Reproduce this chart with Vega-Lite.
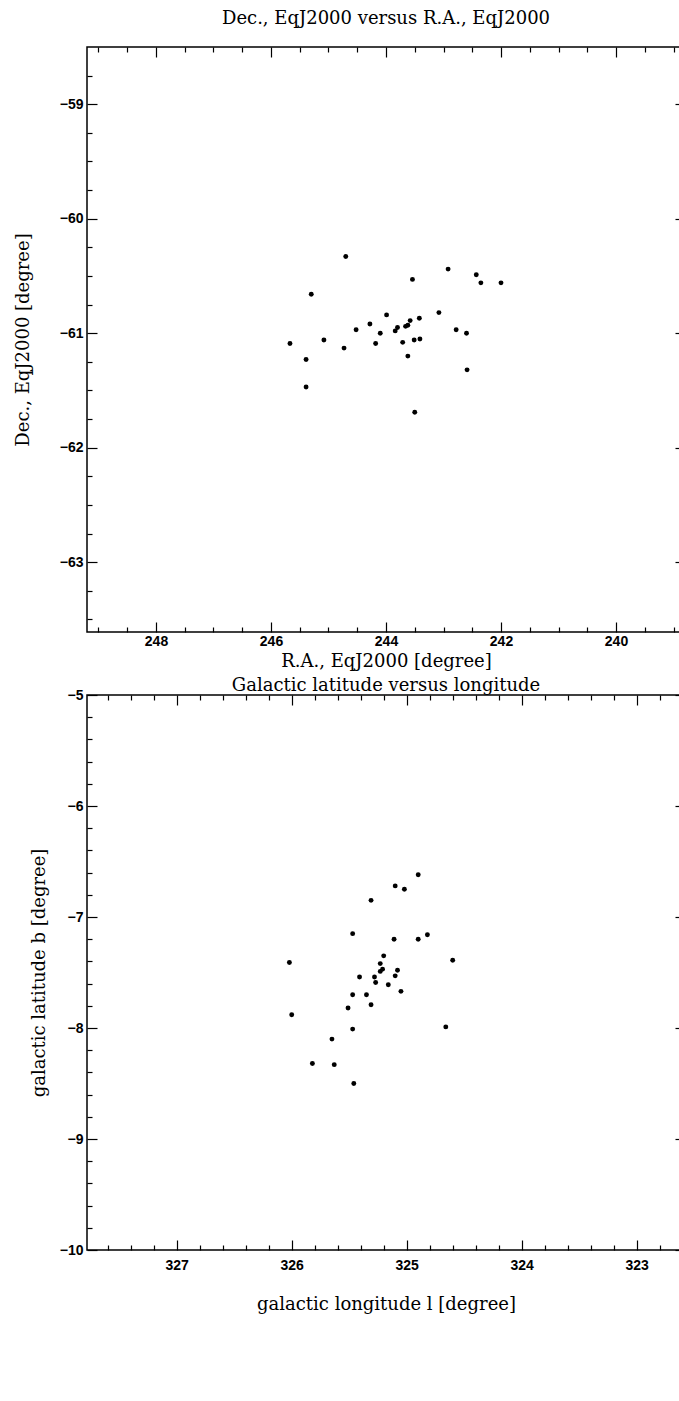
{
  "$schema": "https://vega.github.io/schema/vega-lite/v6.json",
  "background": "white",
  "padding": {"left": 13, "top": 9, "right": 0, "bottom": 0},
  "bounds": "flush",
  "spacing": 63,
  "datasets": {
    "eq": [
      {"ra": 244.70, "dec": -60.33}, {"ra": 242.92, "dec": -60.44}, {"ra": 242.43, "dec": -60.49},
      {"ra": 243.54, "dec": -60.53}, {"ra": 242.35, "dec": -60.56}, {"ra": 242.00, "dec": -60.56},
      {"ra": 245.30, "dec": -60.66}, {"ra": 243.08, "dec": -60.82}, {"ra": 243.99, "dec": -60.84},
      {"ra": 243.42, "dec": -60.87}, {"ra": 243.58, "dec": -60.89}, {"ra": 244.28, "dec": -60.92},
      {"ra": 243.66, "dec": -60.94}, {"ra": 243.62, "dec": -60.93}, {"ra": 243.80, "dec": -60.95},
      {"ra": 243.84, "dec": -60.98}, {"ra": 244.52, "dec": -60.97}, {"ra": 242.78, "dec": -60.97},
      {"ra": 244.10, "dec": -61.00}, {"ra": 242.60, "dec": -61.00}, {"ra": 245.08, "dec": -61.06},
      {"ra": 245.67, "dec": -61.09}, {"ra": 244.18, "dec": -61.09}, {"ra": 243.71, "dec": -61.08},
      {"ra": 243.51, "dec": -61.06}, {"ra": 243.41, "dec": -61.05}, {"ra": 244.73, "dec": -61.13},
      {"ra": 243.62, "dec": -61.20}, {"ra": 245.39, "dec": -61.23}, {"ra": 242.59, "dec": -61.32},
      {"ra": 245.39, "dec": -61.47}, {"ra": 243.50, "dec": -61.69}
    ],
    "gal": [
      {"l": 324.90, "b": -6.62}, {"l": 325.10, "b": -6.72}, {"l": 325.02, "b": -6.75},
      {"l": 325.31, "b": -6.85}, {"l": 325.47, "b": -7.15}, {"l": 325.11, "b": -7.20},
      {"l": 324.90, "b": -7.20}, {"l": 324.82, "b": -7.16}, {"l": 324.60, "b": -7.39},
      {"l": 326.02, "b": -7.41}, {"l": 325.20, "b": -7.35}, {"l": 325.23, "b": -7.42},
      {"l": 325.21, "b": -7.47}, {"l": 325.23, "b": -7.49}, {"l": 325.08, "b": -7.48},
      {"l": 325.10, "b": -7.53}, {"l": 325.41, "b": -7.54}, {"l": 325.28, "b": -7.54},
      {"l": 325.27, "b": -7.59}, {"l": 325.16, "b": -7.61}, {"l": 325.05, "b": -7.67},
      {"l": 325.47, "b": -7.70}, {"l": 325.35, "b": -7.70}, {"l": 325.31, "b": -7.79},
      {"l": 325.51, "b": -7.82}, {"l": 326.00, "b": -7.88}, {"l": 324.66, "b": -7.99},
      {"l": 325.47, "b": -8.01}, {"l": 325.65, "b": -8.10}, {"l": 325.82, "b": -8.32},
      {"l": 325.63, "b": -8.33}, {"l": 325.46, "b": -8.50}
    ]
  },
  "vconcat": [
    {
      "title": {"text": "Dec., EqJ2000 versus R.A., EqJ2000", "offset": 18},
      "width": 598,
      "height": 585,
      "data": {"name": "eq"},
      "resolve": {"axis": {"x": "independent", "y": "independent"}},
      "layer": [
        {
          "mark": {"type": "circle", "size": 24, "color": "black", "opacity": 1},
          "encoding": {
            "x": {"field": "ra", "type": "quantitative",
              "scale": {"domain": [238.8, 249.2], "reverse": true, "nice": false, "zero": false},
              "axis": {"orient": "bottom", "values": [240, 242, 244, 246, 248], "title": "R.A., EqJ2000 [degree]", "tickSize": -10, "labelPadding": 12, "titlePadding": 4, "labelFlush": false}},
            "y": {"field": "dec", "type": "quantitative",
              "scale": {"domain": [-63.61, -58.5], "nice": false, "zero": false},
              "axis": {"orient": "left", "values": [-63, -62, -61, -60, -59], "title": "Dec., EqJ2000 [degree]", "tickSize": -10, "labelPadding": 14, "titlePadding": 27}}
          }
        },
        {
          "mark": {"type": "circle", "size": 24, "opacity": 0},
          "encoding": {
            "x": {"field": "ra", "type": "quantitative",
              "scale": {"domain": [238.8, 249.2], "reverse": true, "nice": false, "zero": false},
              "axis": {"orient": "top", "values": [240, 242, 244, 246, 248], "title": null, "labels": false, "tickSize": -10}},
            "y": {"field": "dec", "type": "quantitative",
              "scale": {"domain": [-63.61, -58.5], "nice": false, "zero": false},
              "axis": {"orient": "right", "values": [-63, -62, -61, -60, -59], "title": null, "labels": false, "tickSize": -10}}
          }
        },
        {
          "mark": {"type": "circle", "size": 24, "opacity": 0},
          "encoding": {
            "x": {"field": "ra", "type": "quantitative",
              "scale": {"domain": [238.8, 249.2], "reverse": true, "nice": false, "zero": false},
              "axis": {"orient": "bottom", "values": [239, 239.5, 240.5, 241, 241.5, 242.5, 243, 243.5, 244.5, 245, 245.5, 246.5, 247, 247.5, 248.5, 249], "title": null, "labels": false, "tickSize": -5}},
            "y": {"field": "dec", "type": "quantitative",
              "scale": {"domain": [-63.61, -58.5], "nice": false, "zero": false},
              "axis": {"orient": "left", "values": [-63.5, -63.25, -62.75, -62.5, -62.25, -61.75, -61.5, -61.25, -60.75, -60.5, -60.25, -59.75, -59.5, -59.25, -58.75], "title": null, "labels": false, "tickSize": -5}}
          }
        },
        {
          "mark": {"type": "circle", "size": 24, "opacity": 0},
          "encoding": {
            "x": {"field": "ra", "type": "quantitative",
              "scale": {"domain": [238.8, 249.2], "reverse": true, "nice": false, "zero": false},
              "axis": {"orient": "top", "values": [239, 239.5, 240.5, 241, 241.5, 242.5, 243, 243.5, 244.5, 245, 245.5, 246.5, 247, 247.5, 248.5, 249], "title": null, "labels": false, "tickSize": -5}},
            "y": {"field": "dec", "type": "quantitative",
              "scale": {"domain": [-63.61, -58.5], "nice": false, "zero": false},
              "axis": {"orient": "right", "values": [-63.5, -63.25, -62.75, -62.5, -62.25, -61.75, -61.5, -61.25, -60.75, -60.5, -60.25, -59.75, -59.5, -59.25, -58.75], "title": null, "labels": false, "tickSize": -5}}
          }
        }
      ]
    },
    {
      "title": {"text": "Galactic latitude versus longitude", "offset": -7},
      "width": 598,
      "height": 555,
      "data": {"name": "gal"},
      "resolve": {"axis": {"x": "independent", "y": "independent"}},
      "layer": [
        {
          "mark": {"type": "circle", "size": 24, "color": "black", "opacity": 1},
          "encoding": {
            "x": {"field": "l", "type": "quantitative",
              "scale": {"domain": [322.58, 327.78], "reverse": true, "nice": false, "zero": false},
              "axis": {"orient": "bottom", "values": [323, 324, 325, 326, 327], "title": "galactic longitude l [degree]", "tickSize": -10, "labelPadding": 18, "titlePadding": 23, "labelFlush": false}},
            "y": {"field": "b", "type": "quantitative",
              "scale": {"domain": [-10, -5], "nice": false, "zero": false},
              "axis": {"orient": "left", "values": [-10, -9, -8, -7, -6, -5], "title": "galactic latitude b [degree]", "tickSize": -10, "labelPadding": 14, "titlePadding": 11}}
          }
        },
        {
          "mark": {"type": "circle", "size": 24, "opacity": 0},
          "encoding": {
            "x": {"field": "l", "type": "quantitative",
              "scale": {"domain": [322.58, 327.78], "reverse": true, "nice": false, "zero": false},
              "axis": {"orient": "top", "values": [323, 324, 325, 326, 327], "title": null, "labels": false, "tickSize": -10}},
            "y": {"field": "b", "type": "quantitative",
              "scale": {"domain": [-10, -5], "nice": false, "zero": false},
              "axis": {"orient": "right", "values": [-10, -9, -8, -7, -6, -5], "title": null, "labels": false, "tickSize": -10}}
          }
        },
        {
          "mark": {"type": "circle", "size": 24, "opacity": 0},
          "encoding": {
            "x": {"field": "l", "type": "quantitative",
              "scale": {"domain": [322.58, 327.78], "reverse": true, "nice": false, "zero": false},
              "axis": {"orient": "bottom", "values": [322.6, 322.8, 323.2, 323.4, 323.6, 323.8, 324.2, 324.4, 324.6, 324.8, 325.2, 325.4, 325.6, 325.8, 326.2, 326.4, 326.6, 326.8, 327.2, 327.4, 327.6], "title": null, "labels": false, "tickSize": -5}},
            "y": {"field": "b", "type": "quantitative",
              "scale": {"domain": [-10, -5], "nice": false, "zero": false},
              "axis": {"orient": "left", "values": [-9.8, -9.6, -9.4, -9.2, -8.8, -8.6, -8.4, -8.2, -7.8, -7.6, -7.4, -7.2, -6.8, -6.6, -6.4, -6.2, -5.8, -5.6, -5.4, -5.2], "title": null, "labels": false, "tickSize": -5}}
          }
        },
        {
          "mark": {"type": "circle", "size": 24, "opacity": 0},
          "encoding": {
            "x": {"field": "l", "type": "quantitative",
              "scale": {"domain": [322.58, 327.78], "reverse": true, "nice": false, "zero": false},
              "axis": {"orient": "top", "values": [322.6, 322.8, 323.2, 323.4, 323.6, 323.8, 324.2, 324.4, 324.6, 324.8, 325.2, 325.4, 325.6, 325.8, 326.2, 326.4, 326.6, 326.8, 327.2, 327.4, 327.6], "title": null, "labels": false, "tickSize": -5}},
            "y": {"field": "b", "type": "quantitative",
              "scale": {"domain": [-10, -5], "nice": false, "zero": false},
              "axis": {"orient": "right", "values": [-9.8, -9.6, -9.4, -9.2, -8.8, -8.6, -8.4, -8.2, -7.8, -7.6, -7.4, -7.2, -6.8, -6.6, -6.4, -6.2, -5.8, -5.6, -5.4, -5.2], "title": null, "labels": false, "tickSize": -5}}
          }
        }
      ]
    }
  ],
  "config": {
    "view": {"stroke": "black", "strokeWidth": 1.5},
    "axis": {
      "domain": false, "grid": false,
      "tickColor": "black", "tickWidth": 1.2,
      "labelFont": "Liberation Sans", "labelFontWeight": "bold", "labelFontSize": 14, "labelColor": "black",
      "titleFont": "DejaVu Serif", "titleFontWeight": "normal", "titleFontSize": 18, "titleColor": "black"
    },
    "title": {"font": "DejaVu Serif", "fontSize": 18, "fontWeight": "normal", "color": "black"}
  }
}
